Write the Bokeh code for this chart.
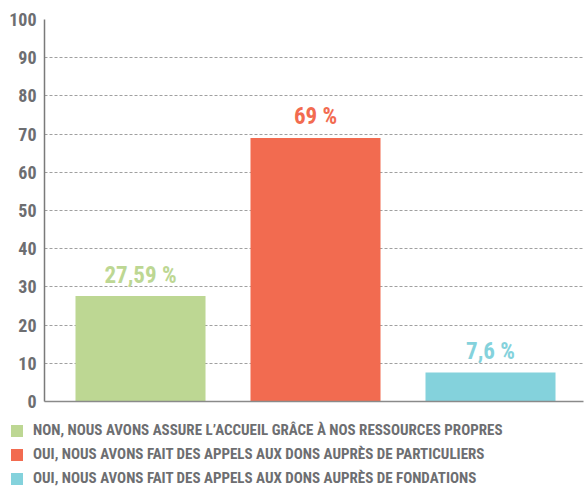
from bokeh.plotting import figure
from bokeh.models import ColumnDataSource, Range1d, FixedTicker, Legend, LegendItem
from bokeh.core.properties import value
from bokeh.embed import file_html
from bokeh.resources import INLINE

categories = [
    "NON, NOUS AVONS ASSURE L’ACCUEIL GRÂCE À NOS RESSOURCES PROPRES",
    "OUI, NOUS AVONS FAIT DES APPELS AUX DONS AUPRÈS DE PARTICULIERS",
    "OUI, NOUS AVONS FAIT DES APPELS AUX DONS AUPRÈS DE FONDATIONS",
]
values = [27.59, 69, 7.6]
value_labels = ["27,59 %", "69 %", "7,6 %"]
colors = ["#bdd793", "#f26b50", "#84d2dc"]
y_ticks = [0, 10, 20, 30, 40, 50, 60, 70, 80, 90, 100]

FONT = "Roboto Condensed"
GREY = "#6d6e71"

src = ColumnDataSource(dict(
    x=list(range(len(values))),
    top=values,
    label=value_labels,
    color=colors,
))

# ---- main chart ----
p = figure(width=584, height=412, output_backend="svg", toolbar_location=None,
           x_range=Range1d(-0.5486, 2.5314), y_range=Range1d(0, 100),
           min_border_left=44, min_border_top=19, min_border_right=1,
           min_border_bottom=11)
p.outline_line_color = None
p.background_fill_color = "white"

bars = p.vbar(x="x", top="top", width=0.743, source=src,
              fill_color="color", line_color=None)

p.text(x="x", y="top", text="label", source=src, text_color="color",
       text_align="center", text_baseline="alphabetic", y_offset=-21,
       text_font=value(FONT), text_font_style="bold", text_font_size="23px")

p.yaxis.ticker = FixedTicker(ticks=y_ticks)
p.yaxis.axis_line_color = "#7a7a7a"
p.yaxis.axis_line_width = 1.5
p.yaxis.major_tick_line_color = None
p.yaxis.major_tick_out = 0
p.yaxis.major_tick_in = 0
p.yaxis.minor_tick_line_color = None
p.yaxis.major_label_standoff = 8
p.yaxis.major_label_text_font = FONT
p.yaxis.major_label_text_font_style = "bold"
p.yaxis.major_label_text_font_size = "18px"
p.yaxis.major_label_text_color = GREY

p.xaxis.ticker = FixedTicker(ticks=[])
p.xaxis.axis_line_color = "#8a8a8a"
p.xaxis.axis_line_width = 1.5
p.xaxis.major_tick_line_color = None
p.xaxis.major_tick_out = 0
p.xaxis.major_tick_in = 0
p.xaxis.minor_tick_line_color = None
p.xaxis.major_label_standoff = 0
p.xaxis.major_label_text_font_size = "0px"

p.xgrid.grid_line_color = None
p.ygrid.ticker = FixedTicker(ticks=y_ticks[1:])
p.ygrid.grid_line_color = "#a0a0a0"
p.ygrid.grid_line_dash = "3 2"
p.ygrid.grid_line_width = 1

# ---- legend strip (separate root, so it is not frame-aligned) ----
lg = figure(width=584, height=75, output_backend="svg", toolbar_location=None,
            x_range=Range1d(0, 1), y_range=Range1d(500, 600),
            x_axis_location=None, y_axis_location=None, min_border=0)
lg.outline_line_color = None
lg.grid.visible = False
lbars = lg.vbar(x="x", top="top", width=0.743, source=src,
                fill_color="color", line_color=None)
items = [LegendItem(label=c, renderers=[lbars], index=i) for i, c in enumerate(categories)]
legend = Legend(items=items, location=(9, 0), orientation="vertical",
                glyph_width=15, glyph_height=15, label_height=15,
                label_standoff=9, spacing=6, padding=0, margin=0,
                border_line_color=None, background_fill_alpha=0,
                label_text_font=FONT, label_text_font_style="bold",
                label_text_font_size="15px", label_text_color=GREY)
lg.add_layout(legend, "center")

open("out.html", "w").write(file_html([p, lg], INLINE))
